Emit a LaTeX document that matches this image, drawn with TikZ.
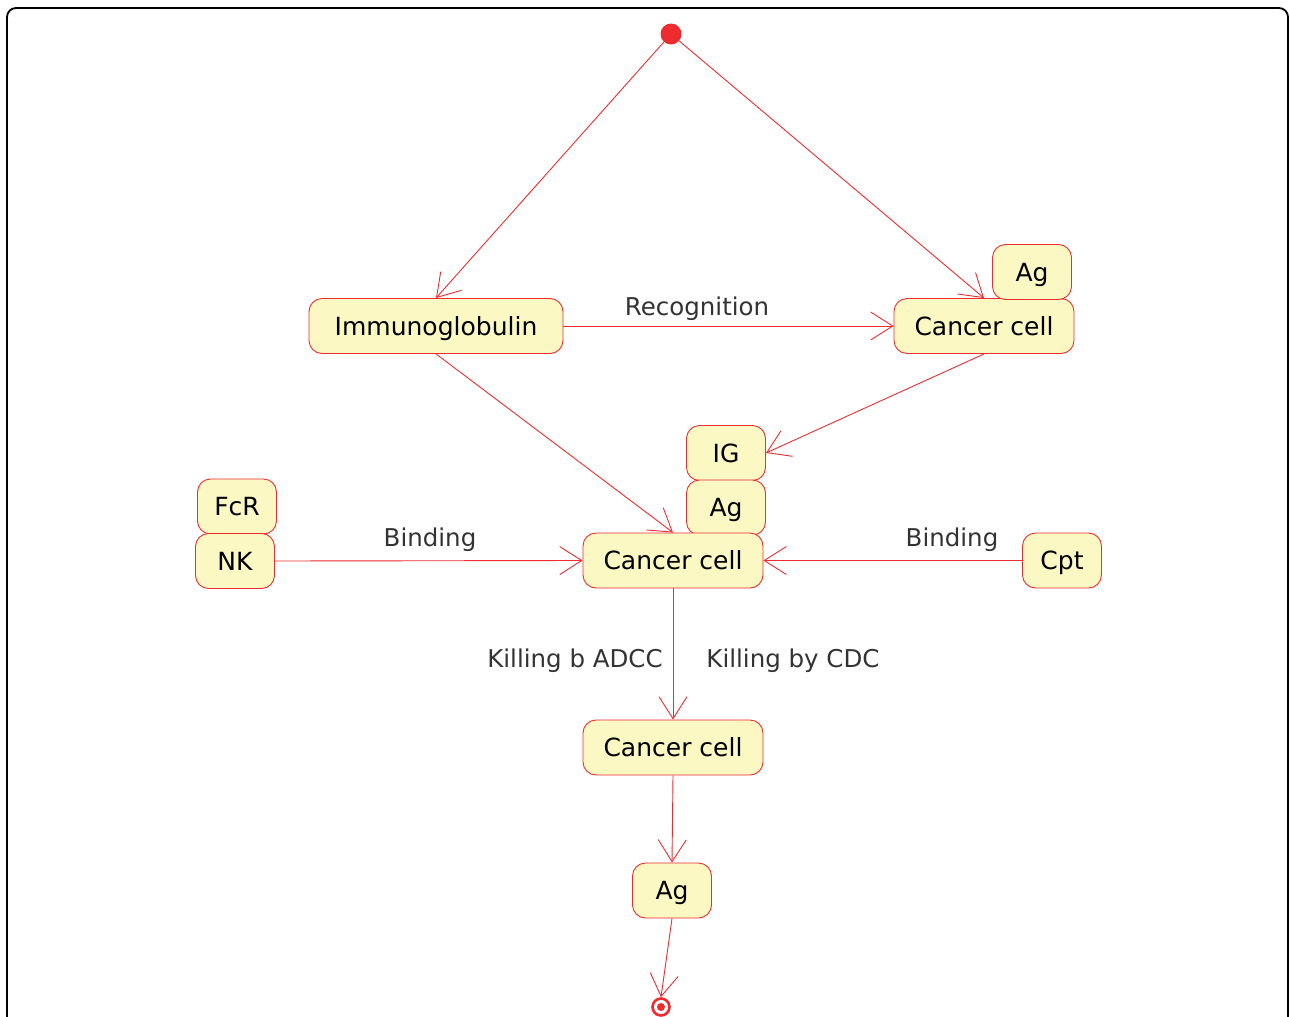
\documentclass[tikz,border=0pt]{standalone}
\usepackage{fontspec}
\setmainfont{DejaVu Sans}
\usetikzlibrary{arrows.meta}
\definecolor{stred}{HTML}{EE2B2E}
\definecolor{stfill}{HTML}{FBF8C4}
\definecolor{lbl}{HTML}{333333}
\begin{document}
\begin{tikzpicture}[x=1pt,y=-1pt,
  st/.style={draw=stred, fill=stfill, rounded corners=13pt, line width=0.9pt,
    minimum height=55pt, minimum width=79pt, inner sep=0pt,
    text height=23pt, text depth=5pt,
    font=\fontsize{25}{30}\selectfont, text=black},
  lb/.style={font=\fontsize{24.5}{30}\selectfont, text=lbl, inner sep=0pt},
  conn/.style={draw=stred, line width=0.9pt,
    -{Straight Barb[length=22pt, width=28pt, line width=0.9pt]}}]
\useasboundingbox (0,0) rectangle (1290,1017);
\draw[line width=1.8pt, rounded corners=9pt] (7,1060) -- (7,8) -- (1288,8) -- (1288,1060);
% nodes
\node[circle, fill=stred, minimum size=21pt, inner sep=0pt] (start) at (671,34) {};
\node[st, minimum width=254pt] (imm) at (436,326) {Immunoglobulin};
\node[st, minimum width=180pt] (cc1) at (984,326) {Cancer cell};
\node[st] (ag1) at (1032,272) {Ag};
\node[st] (ig) at (726,453) {IG};
\node[st] (ag2) at (726,507.5) {Ag};
\node[st, minimum width=180pt] (cc2) at (673,560.5) {Cancer cell};
\node[st] (fcr) at (237,506.5) {FcR};
\node[st] (nk) at (235,561) {NK};
\node[st] (cpt) at (1062,560.5) {Cpt};
\node[st, minimum width=180pt] (cc3) at (673,747.5) {Cancer cell};
\node[st] (ag3) at (672,890.5) {Ag};
\node[circle, draw=stred, line width=2.6pt, minimum size=17pt, inner sep=0pt] (end) at (661,1007) {};
\node[circle, fill=stred, minimum size=8pt, inner sep=0pt] at (end) {};
% connectors
\draw[conn] (start) -- (imm.north);
\draw[conn] (start) -- (cc1.north);
\draw[conn] (imm.east) -- (cc1.west);
\node[lb] (lrec) at (697,309) {Recognition};
\draw[conn] (cc1.south) -- (ig.east);
\draw[conn] (imm.south) -- (cc2.north);
\draw[conn] (nk.east) -- (cc2.west);
\node[lb] (lb1) at (430,540) {Binding};
\draw[conn] (cpt.west) -- (cc2.east);
\node[lb] (lb2) at (952,540) {Binding};
\draw[conn] (cc2.south) -- (cc3.north);
\node[lb] (lk1) at (575,661) {Killing b ADCC};
\node[lb] (lk2) at (793,661) {Killing by CDC};
\draw[conn] (cc3.south) -- (ag3.north);
\draw[conn] (ag3.south) -- (end.north);
\end{tikzpicture}
\end{document}
